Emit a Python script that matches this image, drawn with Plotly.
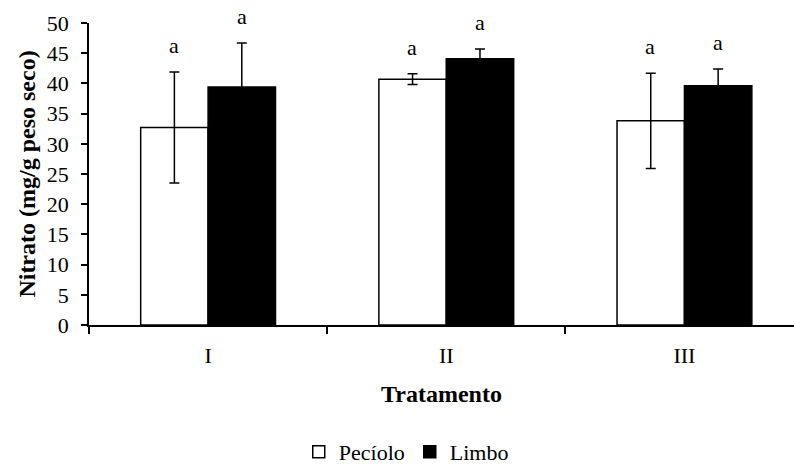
import plotly.graph_objects as go

categories = ["I", "II", "III"]
peciolo = [32.7, 40.7, 33.8]
peciolo_err = [9.2, 0.9, 7.9]
limbo = [39.4, 44.1, 39.6]
limbo_err = [7.3, 1.6, 2.8]
peciolo_letters = ["a", "a", "a"]
limbo_letters = ["a", "a", "a"]

FONT = "Liberation Serif, Times New Roman, serif"

fig = go.Figure()
fig.add_trace(go.Bar(
    x=categories, y=peciolo, name="Pecíolo",
    marker=dict(color="white", line=dict(color="black", width=1.5)),
    error_y=dict(type="data", array=peciolo_err, visible=True,
                 color="black", thickness=1.5, width=5),
))
fig.add_trace(go.Bar(
    x=categories, y=limbo, name="Limbo",
    marker=dict(color="black", line=dict(color="black", width=1.5)),
    error_y=dict(type="data", array=limbo_err, visible=True,
                 color="black", thickness=1.5, width=5),
))

annotations = []
for i, c in enumerate(categories):
    annotations.append(dict(x=c, y=peciolo[i] + peciolo_err[i], xref="x", yref="y",
                            text=peciolo_letters[i], showarrow=False, xshift=-34,
                            yshift=12, yanchor="bottom",
                            font=dict(family=FONT, size=22, color="black")))
    annotations.append(dict(x=c, y=limbo[i] + limbo_err[i], xref="x", yref="y",
                            text=limbo_letters[i], showarrow=False, xshift=34,
                            yshift=12, yanchor="bottom",
                            font=dict(family=FONT, size=22, color="black")))

fig.update_layout(
    width=794, height=471,
    margin=dict(l=89, r=0, t=23, b=146, autoexpand=False),
    paper_bgcolor="white", plot_bgcolor="white",
    barmode="group", bargap=0.434, bargroupgap=0,
    font=dict(family=FONT, size=22, color="black"),
    annotations=annotations,
    showlegend=True,
    legend=dict(orientation="h", xref="paper", x=0.45, xanchor="center",
                yref="paper", y=-0.42, yanchor="middle",
                font=dict(family=FONT, size=22, color="black"),
                traceorder="normal", itemwidth=30),
    xaxis=dict(
        range=[-0.5, 2.46], automargin=False,
        showline=True, linecolor="black", linewidth=1.5,
        ticks="outside", tickson="boundaries", ticklen=7, tickcolor="black",
        tickwidth=1.5, showgrid=False, ticklabelstandoff=10,
        tickfont=dict(family=FONT, size=22),
        title=dict(text="<b>Tratamento</b>", font=dict(family=FONT, size=24), standoff=18),
    ),
    yaxis=dict(
        range=[0, 50], dtick=5, automargin=False,
        showline=True, linecolor="black", linewidth=1.5,
        ticks="outside", ticklen=6, tickcolor="black", tickwidth=1.5,
        showgrid=False, zeroline=False, ticklabelstandoff=8,
        tickfont=dict(family=FONT, size=22),
        title=dict(text="<b>Nitrato (mg/g peso seco)</b>", font=dict(family=FONT, size=24), standoff=4),
    ),
)

fig.write_html("out.html")
